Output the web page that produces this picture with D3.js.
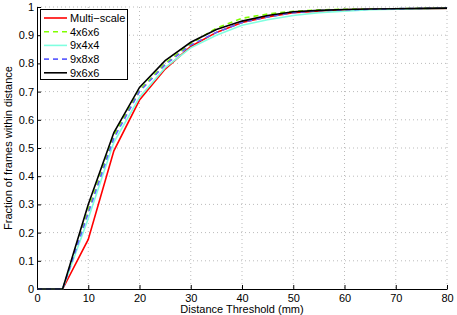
<!DOCTYPE html>
<html><head><meta charset="utf-8">
<script src="https://cdn.jsdelivr.net/npm/d3@7"></script>
<style>body{margin:0;background:#fff}svg{display:block}text{font-family:"Liberation Sans",Arial,sans-serif}</style>
</head><body><svg id="c" width="457" height="315"></svg>
<script>
const thresholds = [0,5,10,15,20,25,30,35,40,45,50,55,60,65,70,75,80];
const multiScale = [0,0,0.176,0.49,0.67,0.78,0.86,0.91,0.945,0.965,0.98,0.985,0.99,0.992,0.993,0.994,0.995];
const s4x6x6 = [0,0,0.28,0.545,0.705,0.80,0.87,0.925,0.96,0.975,0.985,0.99,0.992,0.993,0.994,0.995,0.996];
const s9x4x4 = [0,0,0.25,0.52,0.68,0.785,0.855,0.90,0.935,0.955,0.97,0.98,0.985,0.99,0.992,0.994,0.995];
const s9x8x8 = [0,0,0.27,0.535,0.70,0.795,0.865,0.91,0.945,0.965,0.98,0.987,0.99,0.992,0.994,0.995,0.996];
const s9x6x6 = [0,0,0.30,0.555,0.715,0.81,0.875,0.92,0.95,0.97,0.983,0.988,0.991,0.993,0.994,0.995,0.996];
const seriesNames = ["Multi\u2212scale","4x6x6","9x4x4","9x8x8","9x6x6"];
const seriesValues = [multiScale,s4x6x6,s9x4x4,s9x8x8,s9x6x6];
const seriesColors = ["#ff0000","#80ff00","#80ffe0","#6060ff","#000000"];
const seriesDash = [null,"5,4",null,"5,4",null];
const xTicks = [0,10,20,30,40,50,60,70,80];
const yTicks = [0,0.1,0.2,0.3,0.4,0.5,0.6,0.7,0.8,0.9,1];

const svg = d3.select("#c");
const L=37,R=447,T=7,B=289;
const x = d3.scaleLinear().domain([0,80]).range([L,R]);
const y = d3.scaleLinear().domain([0,1]).range([B,T]);

// grid
const g = svg.append("g");
g.selectAll(".gx").data(xTicks.slice(1)).enter().append("line")
 .attr("x1",d=>x(d)).attr("x2",d=>x(d)).attr("y1",T).attr("y2",B)
 .attr("stroke","#bbb").attr("stroke-width",1).attr("stroke-dasharray","1,3");
g.selectAll(".gy").data(yTicks.slice(1)).enter().append("line")
 .attr("x1",L).attr("x2",R).attr("y1",d=>y(d)).attr("y2",d=>y(d))
 .attr("stroke","#bbb").attr("stroke-width",1).attr("stroke-dasharray","1,3");

// axes
const xa = svg.append("g").attr("transform",`translate(0,${B})`)
 .call(d3.axisBottom(x).tickValues(xTicks).tickSizeInner(-4).tickSizeOuter(0).tickPadding(2).tickFormat(d3.format("d")));
const ya = svg.append("g").attr("transform",`translate(${L},0)`)
 .call(d3.axisLeft(y).tickValues(yTicks).tickSizeInner(-4).tickSizeOuter(0).tickPadding(3).tickFormat(d=>d===0?"0":d===1?"1":d3.format(".1f")(d)));
[xa,ya].forEach(a=>{a.selectAll("text").attr("font-size",11).attr("fill","#000").attr("font-family","Liberation Sans, Arial, sans-serif");
 a.selectAll("line").attr("stroke","#000");a.select(".domain").attr("stroke","#000");});
xa.selectAll("text").attr("y",5);

// lines
const line = d3.line().x((d,i)=>x(thresholds[i])).y(d=>y(d));
seriesValues.forEach((vals,i)=>{
 svg.append("path").attr("d",line(vals)).attr("fill","none")
  .attr("stroke",seriesColors[i]).attr("stroke-width",1.6)
  .attr("stroke-dasharray",seriesDash[i]);
});

// labels
svg.append("text").attr("x",(L+R)/2).attr("y",313).attr("text-anchor","middle")
 .attr("font-size",11).text("Distance Threshold (mm)");
svg.append("text").attr("transform",`translate(12,${(T+B)/2}) rotate(-90)`).attr("text-anchor","middle")
 .attr("font-size",11).text("Fraction of frames within distance");

// legend
const lg = svg.append("g");
lg.append("rect").attr("x",40.5).attr("y",9.5).attr("width",87).attr("height",70)
 .attr("fill","#fff").attr("stroke","#000").attr("stroke-width",1);
seriesNames.forEach((n,i)=>{
 const yy = 18 + i*13.7;
 lg.append("line").attr("x1",44).attr("x2",67).attr("y1",yy).attr("y2",yy)
  .attr("stroke",seriesColors[i]).attr("stroke-width",1.6).attr("stroke-dasharray",seriesDash[i]);
 lg.append("text").attr("x",70).attr("y",yy+4).attr("font-size",11).text(n);
});
</script></body></html>
